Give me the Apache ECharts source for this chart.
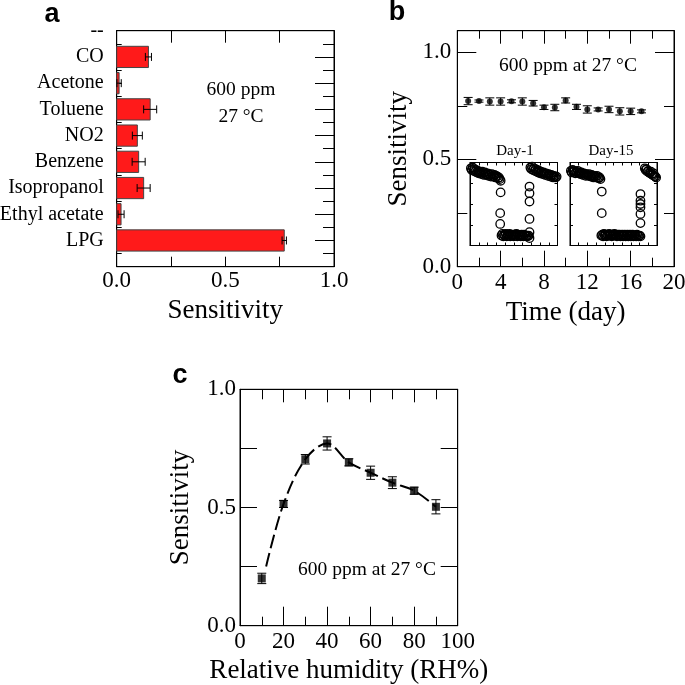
<!DOCTYPE html>
<html>
<head>
<meta charset="utf-8">
<script src="https://cdn.jsdelivr.net/npm/echarts@6/dist/echarts.min.js"></script>
<style>
  html, body { margin: 0; padding: 0; background: #fff; }
  #chart { width: 685px; height: 685px; }
</style>
</head>
<body>
<div id="chart"></div>
<script>
// panel a - gas selectivity (bottom to top)
const gasNames = ['LPG', 'Ethyl acetate', 'Isopropanol', 'Benzene', 'NO2', 'Toluene', 'Acetone', 'CO'];
const gasSens = [0.771, 0.02, 0.124, 0.101, 0.095, 0.154, 0.011, 0.146];
const gasErr = [0.01, 0.014, 0.03, 0.03, 0.023, 0.03, 0.01, 0.014];
const gasAxisLabels = [''].concat(gasNames, ['--']);

// panel b - stability over days
const days = [1, 2, 3, 4, 5, 6, 7, 8, 9, 10, 11, 12, 13, 14, 15, 16, 17];
const stabSens = [0.772, 0.772, 0.77, 0.77, 0.771, 0.77, 0.762, 0.743, 0.742, 0.775, 0.745, 0.733, 0.733, 0.733, 0.724, 0.724, 0.724];
const stabErr = [0.017, 0.005, 0.017, 0.017, 0.007, 0.017, 0.013, 0.01, 0.015, 0.012, 0.012, 0.017, 0.007, 0.015, 0.017, 0.015, 0.007];

// insets: normalised response transients (time %, response %)
const day1Pts = [
  // air baseline
  [1, 93], [2, 91], [3, 94], [4, 90], [5, 92], [6, 89], [7, 91], [8, 88], [9, 90], [10, 87],
  [11, 89], [12, 88], [13, 86], [14, 89], [15, 87], [16, 85], [17, 88], [18, 86], [19, 85], [20, 87],
  [21, 84], [22, 86], [23, 85], [24, 83], [25, 86], [26, 84], [27, 83], [28, 85], [29, 82], [30, 84],
  [31, 83], [32, 81], [33, 82], [34, 80], [35, 78],
  // gas in
  [35, 64], [34.5, 39], [34.5, 26],
  [36, 12], [37, 14], [38, 11], [39, 13], [40, 12], [41, 14], [42, 11], [43, 13], [44, 12], [45, 14],
  [46, 11], [47, 13], [48, 12], [49, 13], [50, 11], [51, 13], [52, 12], [53, 14], [54, 11], [55, 13],
  [56, 12], [57, 12], [58, 11], [59, 13], [60, 12], [61, 11], [62, 13], [63, 12], [64, 11], [65, 12],
  [66, 11], [67, 12],
  // gas out
  [68, 71], [68, 63], [68, 53], [68, 32], [68, 16], [68, 9],
  [69, 94], [70, 92], [71, 95], [72, 91], [73, 93], [74, 90], [75, 92], [76, 89], [77, 91], [78, 88],
  [79, 90], [80, 87], [81, 89], [82, 88], [83, 86], [84, 88], [85, 87], [86, 85], [87, 87], [88, 86],
  [89, 84], [90, 86], [91, 85], [92, 83], [93, 85], [94, 84], [95, 82], [96, 84], [97, 83], [98, 82], [99, 83]
];
const day15Pts = [
  [1, 90], [2, 88], [3, 91], [4, 89], [5, 90], [6, 87], [7, 89], [8, 88], [9, 90], [10, 87],
  [11, 88], [12, 86], [13, 88], [14, 87], [15, 85], [16, 87], [17, 86], [18, 84], [19, 86], [20, 85],
  [21, 84], [22, 86], [23, 84], [24, 83], [25, 85], [26, 84], [27, 82], [28, 84], [29, 83], [30, 82],
  [31, 84], [32, 82], [33, 81], [34, 82], [35, 80],
  [36.5, 65], [36.5, 39],
  [36, 12], [37, 13], [38, 11], [39, 14], [40, 12], [41, 13], [42, 11], [43, 13], [44, 12], [45, 14],
  [46, 12], [47, 13], [48, 11], [49, 13], [50, 12], [51, 14], [52, 12], [53, 13], [54, 11], [55, 13],
  [56, 12], [57, 13], [58, 11], [59, 12], [60, 13], [61, 11], [62, 12], [63, 13], [64, 11], [65, 12],
  [66, 13], [67, 11], [68, 12], [69, 13], [70, 11], [71, 12], [72, 13], [73, 11], [74, 12], [75, 12],
  [76, 11], [77, 13], [78, 12], [79, 11], [80, 12],
  [81, 62], [81, 54], [81, 50], [81, 46], [81, 38], [81, 27], [81, 11],
  [86, 93], [87, 91], [88, 92], [89, 89], [90, 90], [91, 88], [92, 87], [93, 89], [94, 86], [95, 85],
  [96, 87], [97, 84], [98, 83], [99, 82]
];

// panel c - humidity
const rhValues = [10, 20, 30, 40, 50, 60, 70, 80, 90];
const rhSens = [0.20, 0.515, 0.704, 0.771, 0.691, 0.647, 0.605, 0.571, 0.503];
const rhErr = [0.022, 0.015, 0.02, 0.028, 0.015, 0.028, 0.025, 0.015, 0.03];
// guide curve drawn through the points
const fitRH = [12, 20, 30, 40, 50, 60, 70, 80, 90];
const fitSens = [0.25, 0.515, 0.704, 0.771, 0.691, 0.647, 0.605, 0.571, 0.503];

const serif = 'Liberation Serif';
const black = '#000';

var chart = echarts.init(document.getElementById('chart'));

// 2 x-axes + 2 y-axes per grid (ticks on every side, like the original)
function makeAxes(gi, xo, yo) {
  const tickStyle = { color: black, width: 1 };
  const x = [], y = [];
  ['bottom', 'top'].forEach((pos, k) => {
    x.push({
      type: 'value', gridIndex: gi, position: pos,
      min: xo.min, max: xo.max, interval: xo.interval,
      axisLine: { show: true, onZero: false, lineStyle: tickStyle },
      axisTick: { show: true, inside: true, length: xo.tick[k], lineStyle: tickStyle },
      minorTick: { show: !!xo.minor, splitNumber: xo.minor || 5, length: xo.minorLen ? xo.minorLen[k] : 0, lineStyle: tickStyle },
      splitLine: { show: false },
      axisLabel: {
        show: k === 0 && xo.label !== false, color: black, fontFamily: serif, fontSize: 23,
        margin: xo.margin || 5, formatter: xo.fmt
      },
      name: k === 0 ? xo.name : '', nameLocation: 'middle', nameGap: xo.gap,
      nameTextStyle: { color: black, fontFamily: serif, fontSize: 27 }
    });
  });
  ['left', 'right'].forEach((pos, k) => {
    y.push({
      type: 'value', gridIndex: gi, position: pos,
      min: yo.min, max: yo.max, interval: yo.interval,
      axisLine: { show: true, onZero: false, lineStyle: tickStyle },
      axisTick: { show: true, inside: true, length: yo.tick[k], lineStyle: tickStyle },
      minorTick: { show: !!yo.minor, splitNumber: yo.minor || 5, length: yo.minorLen ? yo.minorLen[k] : 0, lineStyle: tickStyle },
      splitLine: { show: false },
      axisLabel: {
        show: k === 0 && yo.label !== false, color: black, fontFamily: serif, fontSize: yo.fontSize || 23,
        margin: yo.margin || 6, formatter: yo.fmt
      },
      name: k === 0 ? yo.name : '', nameLocation: 'middle', nameGap: yo.gap, nameRotate: 90,
      nameTextStyle: { color: black, fontFamily: serif, fontSize: 27 }
    });
  });
  return { x: x, y: y };
}

const fmt1 = v => v.toFixed(1);

const axA = makeAxes(0,
  { min: 0, max: 1, interval: 0.5, tick: [10, 12], minor: 2, minorLen: [10, 12], fmt: fmt1, margin: 3, name: 'Sensitivity', gap: 31 },
  { min: 0, max: 9, interval: 1, tick: [5, 19], minor: 2, minorLen: [5, 11], fmt: v => gasAxisLabels[v] || '', fontSize: 20, margin: 13 });
const axB = makeAxes(1,
  { min: 0, max: 20, interval: 4, tick: [16, 13], minor: 2, minorLen: [9, 8], fmt: v => String(v), margin: 5, name: 'Time (day)', gap: 33 },
  { min: 0, max: 1.1, interval: 0.5, tick: [19, 19], minor: 2, minorLen: [10, 10], fmt: v => v > 1.05 ? '' : fmt1(v), margin: 6, name: 'Sensitivity', gap: 45 });
const axI1 = makeAxes(2,
  { min: 0, max: 100, interval: 10, tick: [3, 3], label: false },
  { min: 0, max: 100, interval: 25, tick: [3, 3], label: false });
const axI2 = makeAxes(3,
  { min: 0, max: 100, interval: 10, tick: [3, 3], label: false },
  { min: 0, max: 100, interval: 25, tick: [3, 3], label: false });
const axC = makeAxes(4,
  { min: 0, max: 100, interval: 20, tick: [19, 13], minor: 2, minorLen: [9, 10], fmt: v => String(v), margin: 5, name: 'Relative humidity (RH%)', gap: 32 },
  { min: 0, max: 1, interval: 0.5, tick: [17, 17], minor: 2, minorLen: [17, 17], fmt: fmt1, margin: 4, name: 'Sensitivity', gap: 46 });

const allAx = [axA, axB, axI1, axI2, axC];
const xAxes = [], yAxes = [];
allAx.forEach(a => { xAxes.push(a.x[0], a.x[1]); yAxes.push(a.y[0], a.y[1]); });

function errorBarV(capHalf) {
  return function (params, api) {
    const xv = api.value(0), yv = api.value(1), e = api.value(2);
    const top = api.coord([xv, yv + e]);
    const bot = api.coord([xv, yv - e]);
    const st = { stroke: black, lineWidth: 1 };
    return {
      type: 'group', children: [
        { type: 'line', shape: { x1: top[0], y1: top[1], x2: bot[0], y2: bot[1] }, style: st },
        { type: 'line', shape: { x1: top[0] - capHalf, y1: top[1], x2: top[0] + capHalf, y2: top[1] }, style: st },
        { type: 'line', shape: { x1: bot[0] - capHalf, y1: bot[1], x2: bot[0] + capHalf, y2: bot[1] }, style: st }
      ]
    };
  };
}

function gasBars(params, api) {
  const v = api.value(0), yc = api.value(1), e = api.value(2);
  const p0 = api.coord([0, yc + 0.405]);
  const p1 = api.coord([v, yc - 0.405]);
  const c = api.coord([v, yc]);
  const xl = api.coord([v - e, yc])[0];
  const xr = api.coord([v + e, yc])[0];
  const st = { stroke: black, lineWidth: 1 };
  return {
    type: 'group', children: [
      { type: 'rect', shape: { x: p0[0], y: p0[1], width: p1[0] - p0[0], height: p1[1] - p0[1] },
        style: { fill: '#ff1a1a', stroke: '#444', lineWidth: 1 } },
      { type: 'line', shape: { x1: xl, y1: c[1], x2: xr, y2: c[1] }, style: st },
      { type: 'line', shape: { x1: xl, y1: c[1] - 4, x2: xl, y2: c[1] + 4 }, style: st },
      { type: 'line', shape: { x1: xr, y1: c[1] - 4, x2: xr, y2: c[1] + 4 }, style: st }
    ]
  };
}

const txt = (x, y, text, size) => ({
  type: 'text', x: x, y: y,
  style: { text: text, fill: black, font: size + 'px "' + serif + '"', textAlign: 'center', textVerticalAlign: 'middle' }
});
const panelLabel = (x, y, t) => ({
  type: 'text', x: x, y: y,
  style: { text: t, fill: black, font: 'bold 27px "Liberation Sans"', textAlign: 'center', textVerticalAlign: 'middle' }
});

const openCircle = { color: 'transparent', borderColor: black, borderWidth: 1.3, opacity: 1 };
const gridBase = { show: true, borderColor: black, borderWidth: 1, outerBoundsMode: 'none', containLabel: false };

const option = {
  backgroundColor: '#fff',
  animation: false,
  grid: [
    Object.assign({ left: 116.7, top: 30.7, width: 217.3, height: 236 }, gridBase),
    Object.assign({ left: 457.3, top: 30.7, width: 216.7, height: 236 }, gridBase),
    Object.assign({ left: 470, top: 162.5, width: 87.5, height: 83, backgroundColor: '#fff' }, gridBase),
    Object.assign({ left: 570, top: 162.5, width: 87, height: 83, backgroundColor: '#fff' }, gridBase),
    Object.assign({ left: 240, top: 389.3, width: 217.7, height: 236.4 }, gridBase)
  ],
  xAxis: xAxes,
  yAxis: yAxes,
  graphic: [
    panelLabel(52, 15, 'a'),
    panelLabel(397, 13, 'b'),
    panelLabel(180, 376, 'c'),
    txt(241, 90, '600 ppm', 19.5),
    txt(241, 117, '27 \u00B0C', 19.5),
    txt(568, 66, '600 ppm at 27 \u00B0C', 19.5),
    txt(515, 151, 'Day-1', 15),
    txt(611, 151, 'Day-15', 15),
    txt(367, 570, '600 ppm at 27 \u00B0C', 19.5)
  ],
  series: [
    {
      type: 'custom', xAxisIndex: 0, yAxisIndex: 0,
      data: gasNames.map((n, i) => [gasSens[i], i + 1, gasErr[i]]),
      renderItem: gasBars, z: 3
    },
    {
      type: 'custom', xAxisIndex: 2, yAxisIndex: 2,
      data: days.map((d, i) => [d, stabSens[i], stabErr[i]]),
      renderItem: errorBarV(4.5)
    },
    {
      type: 'scatter', xAxisIndex: 2, yAxisIndex: 2,
      data: days.map((d, i) => [d, stabSens[i]]),
      symbol: 'circle', symbolSize: 6, itemStyle: { color: black }
    },
    {
      type: 'scatter', xAxisIndex: 4, yAxisIndex: 4, data: day1Pts,
      symbol: 'circle', symbolSize: 8.5, itemStyle: openCircle, clip: true
    },
    {
      type: 'scatter', xAxisIndex: 6, yAxisIndex: 6, data: day15Pts,
      symbol: 'circle', symbolSize: 8.5, itemStyle: openCircle, clip: true
    },
    {
      type: 'line', xAxisIndex: 8, yAxisIndex: 8,
      data: fitRH.map((x, i) => [x, fitSens[i]]),
      smooth: 0.35, showSymbol: false,
      lineStyle: { color: black, width: 2, type: [14, 5] }
    },
    {
      type: 'custom', xAxisIndex: 8, yAxisIndex: 8,
      data: rhValues.map((x, i) => [x, rhSens[i], rhErr[i]]),
      renderItem: errorBarV(4.5)
    },
    {
      type: 'scatter', xAxisIndex: 8, yAxisIndex: 8,
      data: rhValues.map((x, i) => [x, rhSens[i]]),
      symbol: 'rect', symbolSize: 8, itemStyle: { color: black }
    }
  ]
};

chart.setOption(option);
</script>
</body>
</html>
